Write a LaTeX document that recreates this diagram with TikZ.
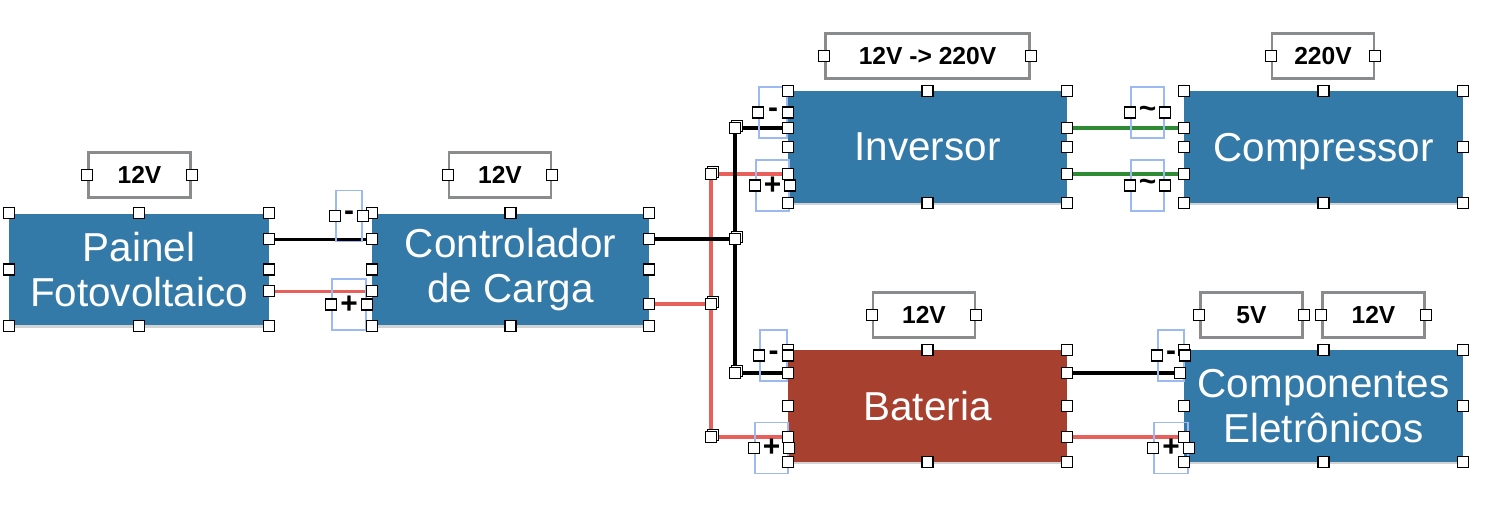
\documentclass[tikz,border=0pt]{standalone}
\usepackage{fontspec}
\setmainfont{Liberation Sans}
\usetikzlibrary{calc,shadows}
\definecolor{boxblue}{HTML}{347AA9}
\definecolor{boxred}{HTML}{A8402F}
\definecolor{wirered}{HTML}{E8605B}
\definecolor{wiregreen}{HTML}{2E8B34}
\definecolor{lblgray}{HTML}{8A8B8D}
\definecolor{selblue}{HTML}{9DB9F3}
\tikzset{
  unit/.style    = {rectangle, fill=boxblue, minimum width=5.58cm, minimum height=2.24cm,
                     align=center, text=white, inner sep=0pt, font=\fontsize{23}{26}\selectfont,
                     drop shadow={shadow xshift=0pt, shadow yshift=-1.2pt, opacity=0.35}},
  vlabel/.style  = {rectangle, draw=lblgray, line width=1.6pt, fill=white,
                     minimum width=2.04cm, minimum height=0.9cm, inner sep=0pt,
                     font=\fontsize{14}{16}\selectfont\bfseries},
  polbox/.style  = {rectangle, draw=selblue, line width=0.9pt,
                     minimum width=0.54cm, minimum height=1.02cm, inner sep=0pt,
                     font=\fontsize{17}{17}\selectfont\bfseries},
  wneg/.style    = {line width=1.8pt, black},
  wpos/.style    = {line width=1.8pt, wirered},
  wac/.style     = {line width=1.8pt, wiregreen},
  handle/.style  = {draw=black, fill=white, line width=0.6pt},
}
\newcommand{\hnd}[1]{\path[handle] (#1) +(-5.5,-5.5) rectangle +(5.5,5.5);}

\begin{document}
\begin{tikzpicture}[x=0.02cm, y=-0.02cm]
\useasboundingbox (0,0) rectangle (1486,514);

% units
\node[unit, minimum width=5.2cm]  (pv)   at (139,269.5)  {Painel\\Fotovoltaico};
\node[unit, minimum width=5.54cm] (ctrl) at (510.5,269.5) {Controlador\\de Carga};
\node[unit]                       (inv)  at (927.5,147)  {Inversor};
\node[unit, text depth=0pt]       (comp) at (1323.5,147) {Compressor};
\node[unit, fill=boxred]          (bat)  at (927.5,406)  {Bateria};
\node[unit]                       (elec) at (1323.5,406) {Componentes\\Eletrônicos};

% voltage labels
\node[vlabel] (vpv)   at (139.5,175) {12V};
\node[vlabel] (vctrl) at (500,175)   {12V};
\node[vlabel, minimum width=4.08cm] (vinv) at (927.5,56) {12V -> 220V};
\node[vlabel] (vcomp) at (1323,56)   {220V};
\node[vlabel] (vbat)  at (924,315)   {12V};
\node[vlabel] (v5)    at (1251.5,315) {5V};
\node[vlabel] (v12)   at (1373.5,315) {12V};

% bus points
\coordinate (jn)  at (735,239);
\coordinate (jnt) at (735,128);
\coordinate (jnb) at (735,373);
\coordinate (jp)  at (711,304);
\coordinate (jpt) at (711,174);
\coordinate (jpb) at (711,437);

% positive side
\draw[wpos] ($(pv.north east)+(0,78)$) -- ($(ctrl.north west)+(0,78)$);
\draw[wpos] (ctrl.east |- jp) -- (jp);
\draw[wpos] (jpt) -- (jpb);
\draw[wpos] (jpt) -- (inv.west |- jpt);
\draw[wpos] (jpb) -- (bat.west |- jpb);
\draw[wpos] (bat.east |- jpb) -- (elec.west |- jpb);

% negative side
\draw[wneg] ($(pv.north east)+(0,26)$) -- ($(ctrl.north west)+(0,26)$);
\draw[wneg] (ctrl.east |- jn) -- (jn);
\draw[wneg] (jnt) -- (jnb);
\draw[wneg] (jnt) -- (inv.west |- jnt);
\draw[wneg] (jnb) -- (bat.west |- jnb);
\draw[wneg] (bat.east |- jnb) -- ($(elec.west |- jnb)+(-4,0)$);

% 220V side
\draw[wac] (inv.east |- jnt) -- (comp.west |- jnt);
\draw[wac] (inv.east |- jpt) -- (comp.west |- jpt);

% polarity marks
\node[polbox, minimum width=0.52cm] (mpv)  at (349,216)     {-};
\node[polbox, minimum width=0.68cm] (ppv)  at (349,304.5)   {+};
\node[polbox, minimum width=0.56cm] (minv) at (773,112.5)   {-};
\node[polbox, minimum width=0.66cm] (pinv) at (772.5,185.5) {+};
\node[polbox, minimum width=0.54cm] (mbat) at (773.5,355.5) {-};
\node[polbox, minimum width=0.66cm] (pbat) at (771.5,448)   {+};
\node[polbox, minimum width=0.52cm] (mel)  at (1171,355.5)  {-};
\node[polbox, minimum width=0.68cm] (pel)  at (1171,448)    {+};
\node[polbox, minimum width=0.66cm] (ac1)  at (1147.5,112.5) {\raisebox{-2pt}{\char`\~}};
\node[polbox, minimum width=0.66cm] (ac2)  at (1147.5,185.5) {\raisebox{-2pt}{\char`\~}};

% selection handles
\foreach \n in {pv,ctrl,inv,comp,bat,elec}
  \foreach \a in {north west,north,north east,west,east,south west,south,south east}
    {\hnd{\n.\a}}
\foreach \n in {vpv,vctrl,vinv,vcomp,vbat,v5,v12,mpv,ppv,minv,pinv,mbat,pbat,mel,pel,ac1,ac2}
  {\hnd{\n.west} \hnd{\n.east}}
\hnd{$(pv.north east)+(0,26)$}   \hnd{$(ctrl.north west)+(0,26)$}
\hnd{$(pv.north east)+(0,78)$}   \hnd{$(ctrl.north west)+(0,78)$}
\hnd{ctrl.east |- jn} \hnd{ctrl.east |- jp}
\foreach \c in {jn,jnt,jnb,jp,jpt,jpb}
  {\hnd{$(\c)+(2,-2)$} \hnd{\c}}
\hnd{inv.west |- jnt}  \hnd{inv.west |- jpt}
\hnd{bat.west |- jnb}  \hnd{bat.west |- jpb}
\hnd{inv.east |- jnt}  \hnd{inv.east |- jpt}
\hnd{comp.west |- jnt} \hnd{comp.west |- jpt}
\hnd{bat.east |- jnb}  \hnd{bat.east |- jpb}
\hnd{$(elec.west |- jnb)+(-4,0)$} \hnd{elec.west |- jpb}
\end{tikzpicture}
\end{document}
